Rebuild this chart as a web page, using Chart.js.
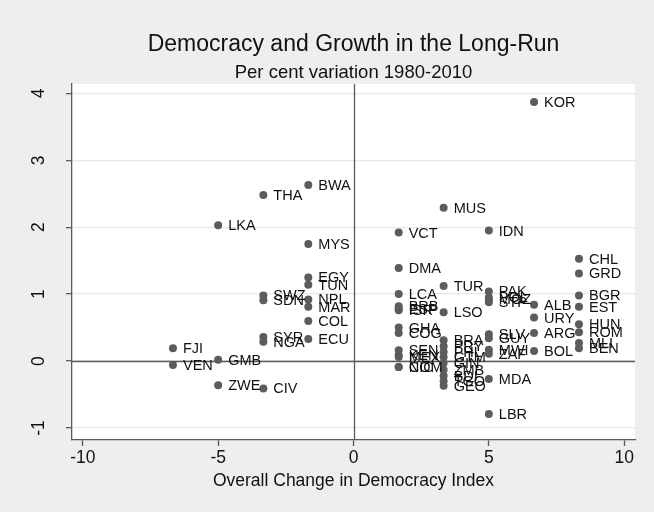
<!DOCTYPE html>
<html>
<head>
<meta charset="utf-8">
<script src="https://cdn.jsdelivr.net/npm/chart.js@4/dist/chart.umd.min.js"></script>
<style>
  html, body { margin: 0; padding: 0; background: #eeeeee; }
  #wrap { width: 654px; height: 512px; }
</style>
</head>
<body>
<div id="wrap"><canvas id="c" width="654" height="512"></canvas></div>
<script>
// Country codes, change in democracy index, and per cent growth 1980-2010
const countries = [
  'FJI','VEN',
  'LKA','GMB','ZWE',
  'THA','SWZ','SDN','SYR','NGA','CIV',
  'BWA','MYS','EGY','TUN','NPL','MAR','COL','ECU',
  'VCT','DMA','LCA','BRB','ESP','ISR','GHA','COG','SEN','KEN','MEX','NIC','COM',
  'MUS','TUR','LSO','BRA','PRY','PHL','GTM','GIN','ZMB','BDI','TGO','GEO',
  'IDN','PAK','POL','MOZ','STP','SLV','GUY','MWI','ZAF','MDA','LBR',
  'KOR','ALB','URY','ARG','BOL',
  'CHL','GRD','BGR','EST','HUN','ROM','MLI','BEN'
];
const demChange = [
  -6.67,-6.67,
  -5,-5,-5,
  -3.33,-3.33,-3.33,-3.33,-3.33,-3.33,
  -1.67,-1.67,-1.67,-1.67,-1.67,-1.67,-1.67,-1.67,
  1.67,1.67,1.67,1.67,1.67,1.67,1.67,1.67,1.67,1.67,1.67,1.67,1.67,
  3.33,3.33,3.33,3.33,3.33,3.33,3.33,3.33,3.33,3.33,3.33,3.33,
  5,5,5,5,5,5,5,5,5,5,5,
  6.67,6.67,6.67,6.67,6.67,
  8.33,8.33,8.33,8.33,8.33,8.33,8.33,8.33
];
const growth = [
  0.19,-0.06,
  2.03,0.02,-0.36,
  2.48,0.98,0.91,0.36,0.29,-0.41,
  2.63,1.75,1.25,1.14,0.92,0.81,0.60,0.33,
  1.92,1.39,1.00,0.82,0.78,0.76,0.50,0.42,0.16,0.09,0.06,-0.09,-0.09,
  2.29,1.12,0.73,0.31,0.22,0.14,0.06,-0.03,-0.13,-0.22,-0.30,-0.37,
  1.95,1.04,0.95,0.92,0.88,0.40,0.34,0.17,0.11,-0.27,-0.79,
  3.87,0.84,0.65,0.42,0.15,
  1.53,1.31,0.98,0.81,0.55,0.43,0.27,0.19
];
const xTicks = [-10, -5, 0, 5, 10];
const yTicks = [-1, 0, 1, 2, 3, 4];

const titleText = 'Democracy and Growth in the Long-Run';
const subtitleText = 'Per cent variation 1980-2010';
const xTitleText = 'Overall Change in Democracy Index';

const FONT = '"Liberation Sans", Arial, Helvetica, sans-serif';
const AXIS_COLOR = '#5a5a5a';

const points = countries.map((c, i) => ({ x: demChange[i], y: growth[i], label: c }));

// Backgrounds: grey page, white plot region, zero reference lines
const backdrop = {
  id: 'backdrop',
  beforeDraw(chart) {
    const { ctx, chartArea: a } = chart;
    ctx.save();
    ctx.fillStyle = '#eeeeee';
    ctx.fillRect(0, 0, chart.width, chart.height);
    ctx.fillStyle = '#ffffff';
    ctx.fillRect(a.left, a.top, a.right - a.left, a.bottom - a.top);
    ctx.restore();
  },
  beforeDatasetsDraw(chart) {
    const { ctx, chartArea: a, scales } = chart;
    const x0 = Math.round(scales.x.getPixelForValue(0)) + 0.5;
    const y0 = Math.round(scales.y.getPixelForValue(0)) + 0.5;
    ctx.save();
    ctx.strokeStyle = AXIS_COLOR;
    ctx.lineWidth = 1.3;
    ctx.beginPath();
    ctx.moveTo(x0, a.top); ctx.lineTo(x0, a.bottom);
    ctx.moveTo(a.left, y0); ctx.lineTo(a.right, y0);
    ctx.stroke();
    ctx.restore();
  }
};

// Country code next to each marker, titles and rotated y tick labels
const annotations = {
  id: 'annotations',
  afterDatasetsDraw(chart) {
    const { ctx } = chart;
    const meta = chart.getDatasetMeta(0);
    ctx.save();
    ctx.font = '14.5px ' + FONT;
    ctx.fillStyle = '#111111';
    ctx.textBaseline = 'middle';
    ctx.textAlign = 'left';
    meta.data.forEach((el, i) => {
      ctx.fillText(points[i].label, el.x + 10, el.y + 1);
    });
    ctx.restore();
  },
  afterDraw(chart) {
    const { ctx, chartArea: a, scales } = chart;
    const cx = (a.left + a.right) / 2;
    ctx.save();
    ctx.fillStyle = '#111111';
    ctx.textAlign = 'center';
    ctx.textBaseline = 'middle';
    ctx.font = '23px ' + FONT;
    ctx.fillText(titleText, cx, 45);
    ctx.font = '18.5px ' + FONT;
    ctx.fillText(subtitleText, cx, 73);
    ctx.font = '17.5px ' + FONT;
    ctx.fillText(xTitleText, cx, 481);
    // y tick labels, turned to read upward
    ctx.font = '17.5px ' + FONT;
    yTicks.forEach(v => {
      const py = scales.y.getPixelForValue(v);
      ctx.save();
      ctx.translate(39, py);
      ctx.rotate(-Math.PI / 2);
      ctx.fillText(String(v), 0, 0);
      ctx.restore();
    });
    ctx.restore();
  }
};

new Chart(document.getElementById('c'), {
  type: 'scatter',
  data: {
    datasets: [{
      data: points,
      backgroundColor: '#5c5c5c',
      borderColor: '#5c5c5c',
      borderWidth: 0,
      pointRadius: 4,
      pointHoverRadius: 4
    }]
  },
  options: {
    responsive: false,
    animation: false,
    events: [],
    layout: { padding: { left: 0, top: 84, right: 19, bottom: 0 } },
    plugins: { legend: { display: false }, tooltip: { enabled: false }, title: { display: false } },
    scales: {
      x: {
        type: 'linear',
        min: -10.4, max: 10.4,
        afterBuildTicks: s => { s.ticks = xTicks.map(v => ({ value: v })); },
        afterFit: s => { s.height = 72; },
        border: { display: true, color: AXIS_COLOR, width: 1.3 },
        grid: { drawOnChartArea: false, drawTicks: true, tickLength: 6, tickColor: AXIS_COLOR, tickWidth: 1.3 },
        ticks: {
          color: '#111111',
          font: { family: FONT, size: 17.5 },
          padding: 2,
          maxRotation: 0,
          callback: v => String(v)
        }
      },
      y: {
        type: 'linear',
        min: -1.18, max: 4.14,
        afterBuildTicks: s => { s.ticks = yTicks.map(v => ({ value: v })); },
        afterFit: s => { s.width = 72; },
        border: { display: true, color: AXIS_COLOR, width: 1.3 },
        grid: { drawOnChartArea: true, color: '#e8e8e8', lineWidth: 1.3, drawTicks: true, tickLength: 6, tickColor: AXIS_COLOR, tickWidth: 1.3 },
        ticks: { display: false }
      }
    }
  },
  plugins: [backdrop, annotations]
});
</script>
</body>
</html>
